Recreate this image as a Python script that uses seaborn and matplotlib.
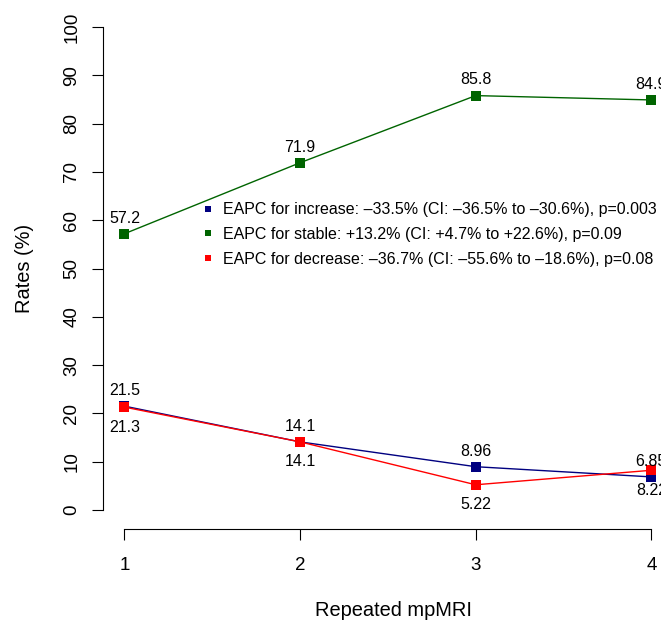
import matplotlib
matplotlib.use("Agg")
import matplotlib.pyplot as plt
from matplotlib.lines import Line2D
import seaborn as sns
import pandas as pd

# ---- data ----
mri = [1, 2, 3, 4]
increase = [21.5, 14.1, 8.96, 6.85]
stable = [57.2, 71.9, 85.8, 84.9]
decrease = [21.3, 14.1, 5.22, 8.22]
groups = ["increase", "stable", "decrease"]
legend_labels = [
    "EAPC for increase: \u201333.5% (CI: \u201336.5% to \u201330.6%), p=0.003",
    "EAPC for stable: +13.2% (CI: +4.7% to +22.6%), p=0.09",
    "EAPC for decrease: \u201336.7% (CI: \u201355.6% to \u201318.6%), p=0.08",
]
y_ticks = [0, 10, 20, 30, 40, 50, 60, 70, 80, 90, 100]
x_label = "Repeated mpMRI"
y_label = "Rates (%)"

colors = {"increase": "#000080", "stable": "#006400", "decrease": "#FF0000"}
label_pos = {"increase": "above", "stable": "above", "decrease": "below"}

df = pd.DataFrame({
    "mri": mri * 3,
    "rate": increase + stable + decrease,
    "group": ["increase"] * 4 + ["stable"] * 4 + ["decrease"] * 4,
})

plt.rcParams["font.family"] = ["Liberation Sans", "DejaVu Sans"]

W, H = 661, 621
fig = plt.figure(figsize=(W / 100, H / 100), dpi=100)
left, right, top, bottom = 103.4, 672.4, 7.7, 529.3
ax = fig.add_axes([left / W, 1 - bottom / H, (right - left) / W, (bottom - top) / H])

for g in groups:
    sub = df[df["group"] == g]
    sns.lineplot(data=sub, x="mri", y="rate", ax=ax, color=colors[g], lw=1,
                 marker="s", markersize=6.8, markeredgewidth=0, legend=False,
                 clip_on=False)
    for xv, yv in zip(sub["mri"], sub["rate"]):
        if label_pos[g] == "above":
            ax.annotate(f"{yv:g}", (xv, yv), xytext=(0, 8), textcoords="offset points",
                        ha="center", va="baseline", fontsize=11.5, annotation_clip=False)
        else:
            ax.annotate(f"{yv:g}", (xv, yv), xytext=(0, -9), textcoords="offset points",
                        ha="center", va="top", fontsize=11.5, annotation_clip=False)

ax.set_xlim(0.88, 4.12)
ax.set_ylim(-4, 104)
ax.set_xticks(mri)
ax.set_xticklabels([str(v) for v in mri])
ax.set_yticks(y_ticks)
ax.set_yticklabels([str(v) for v in y_ticks], rotation=90, va="center")
for s in ["top", "right"]:
    ax.spines[s].set_visible(False)
ax.spines["left"].set_bounds(0, 100)
ax.spines["bottom"].set_bounds(1, 4)
for s in ["left", "bottom"]:
    ax.spines[s].set_linewidth(0.8)
ax.tick_params(axis="both", direction="out", length=8.1, width=0.8, labelsize=13.5)
ax.tick_params(axis="y", pad=8.5)
ax.tick_params(axis="x", pad=12)
ax.set_facecolor("white")

ax.set_xlabel(x_label, fontsize=14.4)
ax.set_ylabel(y_label, fontsize=14.4)
ax.xaxis.set_label_coords(0.51, -0.137)
ax.yaxis.set_label_coords(-0.1228, 0.5)

handles = [Line2D([], [], ls="none", marker="s", markersize=4.6, markeredgewidth=0,
                  color=colors[g]) for g in groups]
fig.legend(handles, legend_labels, loc="upper left",
           bbox_to_anchor=(203.3 / W, 1 - 202.4 / H), bbox_transform=fig.transFigure,
           frameon=False, fontsize=11.5, handlelength=0.6, handletextpad=0.62,
           borderpad=0, borderaxespad=0, labelspacing=0.6)

fig.savefig("out.png", dpi=100, facecolor="white")
